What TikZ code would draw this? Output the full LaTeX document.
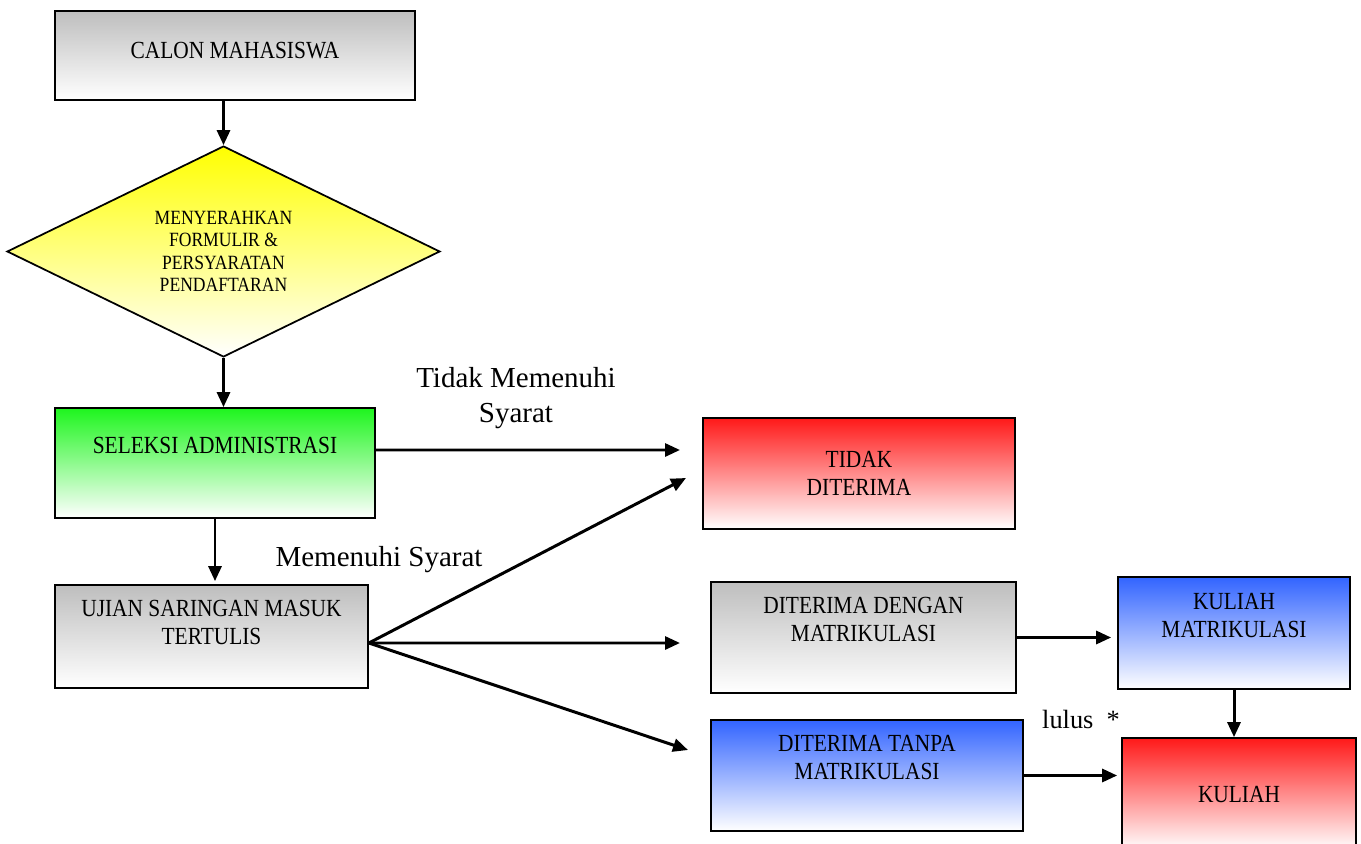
\documentclass[tikz,border=0pt]{standalone}
\usepackage{fontspec}
\setmainfont{Liberation Serif}
\newfontfamily\boxfont[FakeStretch=0.87]{Liberation Serif}
\usetikzlibrary{arrows.meta,shapes.geometric}

\definecolor{boxgray}{RGB}{190,190,190}
\definecolor{boxyellow}{RGB}{255,255,0}
\definecolor{boxgreen}{RGB}{30,245,30}
\definecolor{boxred}{RGB}{255,25,25}
\definecolor{boxblue}{RGB}{50,100,255}

\begin{document}
\begin{tikzpicture}[x=0.02cm,y=-0.02cm,
    box/.style = {rectangle,draw=black,line width=1pt,inner sep=0pt,align=center,
                  font=\boxfont\fontsize{14}{16}\selectfont,bottom color=white},
    lift/.style = {text depth=#1},
    arr/.style = {-{Triangle[length=0.3cm,width=0.26cm]},line width=1.7pt},
    lbl/.style = {align=center,font=\fontsize{16.5}{19.5}\selectfont}]
\useasboundingbox (0,0) rectangle (1361,844);

% boxes
\node[box,top color=boxgray,lift=6pt,minimum width=7.2cm,minimum height=1.78cm] (calon) at (235,55.5) {CALON MAHASISWA};
\node[box,diamond,shape aspect=2.05,top color=boxyellow,minimum width=8.66cm,minimum height=4.22cm,
      font=\boxfont\fontsize{11.5}{12.8}\selectfont] (berkas) at (223.5,251.5) {MENYERAHKAN\\FORMULIR \&\\PERSYARATAN\\PENDAFTARAN};
\node[box,top color=boxgreen,lift=20pt,minimum width=6.4cm,minimum height=2.2cm] (seleksi) at (215,463) {SELEKSI ADMINISTRASI};
\node[box,top color=boxgray,lift=16pt,minimum width=6.26cm,minimum height=2.06cm] (ujian) at (211.5,636.5) {UJIAN SARINGAN MASUK\\TERTULIS};
\node[box,top color=boxred,minimum width=6.24cm,minimum height=2.22cm] (tolak) at (859,473.5) {TIDAK\\DITERIMA};
\node[box,top color=boxgray,lift=20.5pt,minimum width=6.1cm,minimum height=2.22cm] (matrik) at (863.5,637.5) {DITERIMA DENGAN\\MATRIKULASI};
\node[box,top color=boxblue,lift=20pt,minimum width=4.64cm,minimum height=2.24cm] (kmatrik) at (1234,633) {KULIAH\\MATRIKULASI};
\node[box,top color=boxblue,lift=20.5pt,minimum width=6.24cm,minimum height=2.22cm] (tanpa) at (867,775.5) {DITERIMA TANPA\\MATRIKULASI};
\node[box,top color=boxred,minimum width=4.68cm,minimum height=2.24cm] (kuliah) at (1239,794) {KULIAH};

% labels
\node[lbl] (tidak) at (516,398) {Tidak Memenuhi\\Syarat};
\node[lbl] (penuh) at (379,560) {Memenuhi Syarat};
\node[lbl,font=\fontsize{15}{18}\selectfont] (lulus) at (1081,719) {lulus~~*};

% free arrow ends
\coordinate (e0) at (680,450);
\coordinate (e1) at (686,478);
\coordinate (e2) at (680,643);
\coordinate (e3) at (688,750);
\coordinate (fan) at ([yshift=-0.13cm]ujian.east);

% arrows
\draw[arr] (berkas.north |- calon.south) -- (berkas.north);
\draw[arr] (berkas.south) -- (berkas.south |- seleksi.north);
\draw[arr] (seleksi.south) -- ([yshift=0.06cm]seleksi.south |- ujian.north);
\draw[arr] ([yshift=0.26cm]seleksi.east) -- (e0);
\foreach \e in {e1,e2,e3}
    \draw[arr] (fan) -- (\e);
\draw[arr,shorten >=0.12cm] (matrik.east) -- (matrik.east -| kmatrik.west);
\draw[arr] (kmatrik.south) -- (kmatrik.south |- kuliah.north);
\draw[arr,shorten >=0.08cm] (tanpa.east) -- (tanpa.east -| kuliah.west);
\end{tikzpicture}
\end{document}
